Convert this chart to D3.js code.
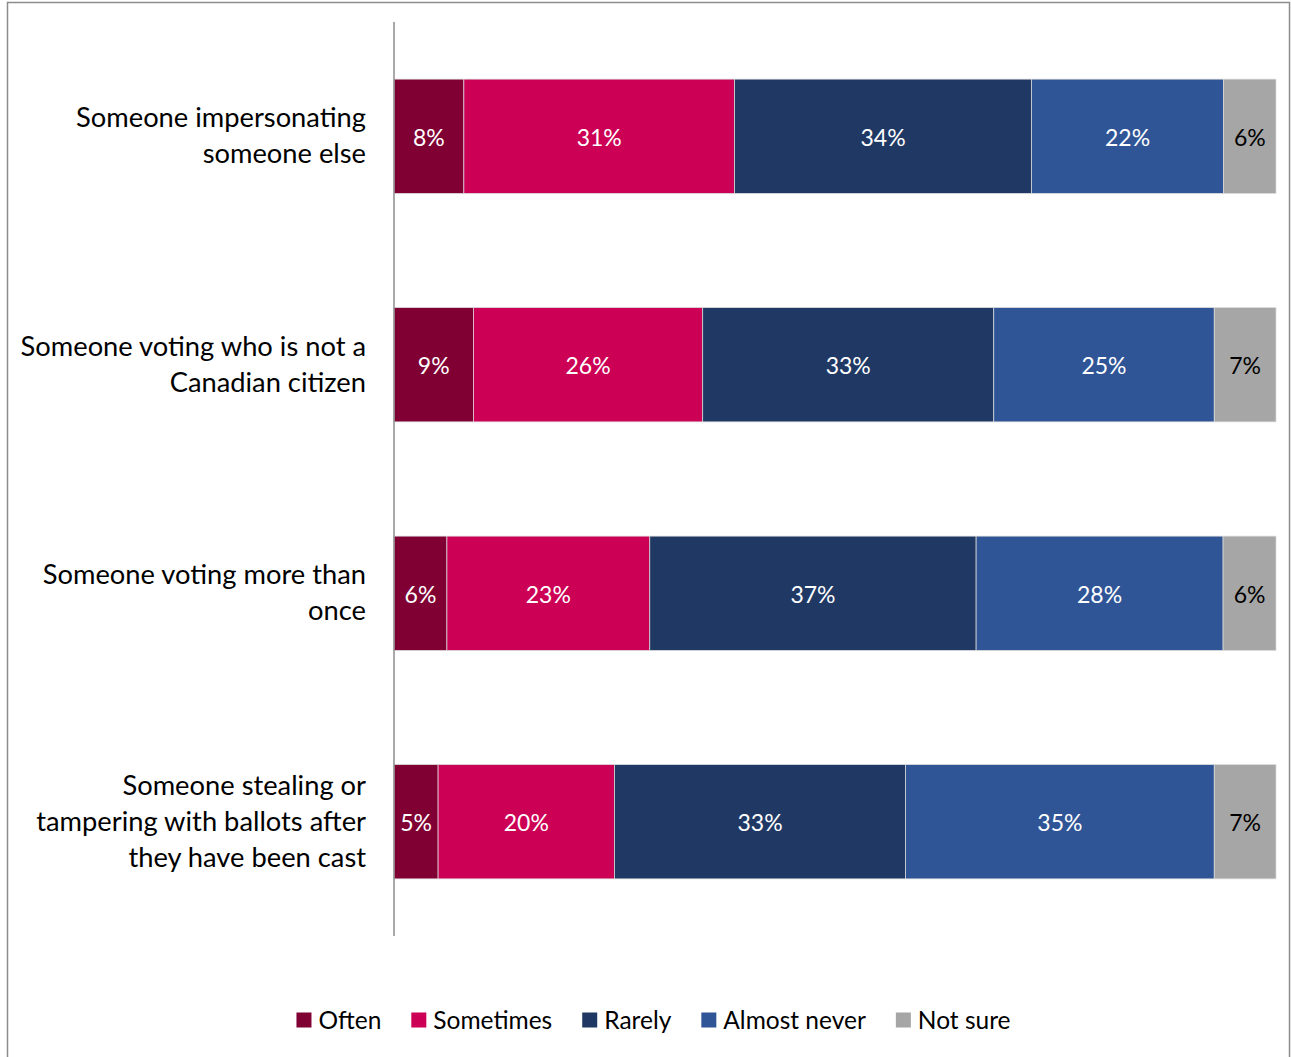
<!DOCTYPE html>
<html>
<head>
<meta charset="utf-8">
<script src="https://cdn.jsdelivr.net/npm/d3@7"></script>
<style>
  html, body { margin: 0; padding: 0; background: #fff; }
  svg { display: block; }
  text { font-family: Lato, "Noto Sans", sans-serif; }
</style>
</head>
<body>
<script>
// Perceived frequency of election fraud, by type (stacked 100%)
const categories = [
  ["Someone impersonating", "someone else"],
  ["Someone voting who is not a", "Canadian citizen"],
  ["Someone voting more than", "once"],
  ["Someone stealing or", "tampering with ballots after", "they have been cast"]
];
const seriesNames = ["Often", "Sometimes", "Rarely", "Almost never", "Not sure"];
const often       = [8, 9, 6, 5];
const sometimes   = [31, 26, 23, 20];
const rarely      = [34, 33, 37, 33];
const almostNever = [22, 25, 28, 35];
const notSure     = [6, 7, 6, 7];
const colors = ["#800034", "#CC0055", "#203864", "#2F5597", "#A6A6A6"];
const labelColors = ["#ffffff", "#ffffff", "#ffffff", "#ffffff", "#000000"];

const W = 1291, H = 1057;
const plotLeft = 394, plotRight = 1276, plotTop = 22, plotBottom = 936;

const svg = d3.select("body").append("svg").attr("width", W).attr("height", H);

// outer frame
svg.append("rect")
  .attr("x", 7.5).attr("y", 2.5).attr("width", 1282).attr("height", 1070)
  .attr("fill", "none").attr("stroke", "#8c8c8c").attr("stroke-width", 1.5);

const rows = categories.map((c, i) => {
  const vals = [often[i], sometimes[i], rarely[i], almostNever[i], notSure[i]];
  return { idx: i, lines: c, vals, total: d3.sum(vals) };
});

const y = d3.scaleBand().domain(d3.range(categories.length))
  .range([plotTop, plotBottom]).paddingInner(0.5).paddingOuter(0.25);

const x = d3.scaleLinear().domain([0, 100]).range([plotLeft, plotRight]);

const g = svg.append("g");

rows.forEach(r => {
  const share = d3.scaleLinear().domain([0, r.total]).range([0, 100]);
  let acc = 0;
  r.vals.forEach((v, k) => {
    const x0 = x(share(acc)), x1 = x(share(acc + v));
    acc += v;
    g.append("rect")
      .attr("x", x0).attr("y", y(r.idx))
      .attr("width", x1 - x0).attr("height", y.bandwidth())
      .attr("fill", colors[k])
      .attr("stroke", "#d9d9d9").attr("stroke-width", 0.75);
    g.append("text")
      .attr("x", (x0 + x1) / 2)
      .attr("y", y(r.idx) + y.bandwidth() / 2 + 1.5)
      .attr("dy", "0.35em")
      .attr("text-anchor", "middle")
      .attr("font-size", 23)
      .attr("fill", labelColors[k])
      .text(v + "%");
  });
});

// category axis line
svg.append("line")
  .attr("x1", plotLeft).attr("x2", plotLeft).attr("y1", plotTop).attr("y2", plotBottom)
  .attr("stroke", "#8c8c8c").attr("stroke-width", 1.5);

// category labels
const lineH = 36;
rows.forEach(r => {
  const cy = y(r.idx) + y.bandwidth() / 2 - 0.5;
  const n = r.lines.length;
  const t = svg.append("text")
    .attr("text-anchor", "end")
    .attr("font-size", 27.3)
    .attr("fill", "#000");
  r.lines.forEach((ln, j) => {
    t.append("tspan")
      .attr("x", 366)
      .attr("y", cy + (j - (n - 1) / 2) * lineH)
      .attr("dy", "0.35em")
      .text(ln);
  });
});

// legend
const legend = svg.append("g");
let lx = 0;
seriesNames.forEach((name, k) => {
  const item = legend.append("g").attr("transform", `translate(${lx},0)`);
  item.append("rect").attr("x", 0).attr("y", -7.5).attr("width", 15).attr("height", 15)
    .attr("fill", colors[k]);
  const tx = item.append("text").attr("x", 22).attr("dy", "0.35em")
    .attr("font-size", 24.5).attr("fill", "#000").text(name);
  lx += 22 + tx.node().getComputedTextLength() + 30;
});
const legendW = lx - 30;
legend.attr("transform", `translate(${653.5 - legendW / 2},1020)`);
</script>
</body>
</html>
